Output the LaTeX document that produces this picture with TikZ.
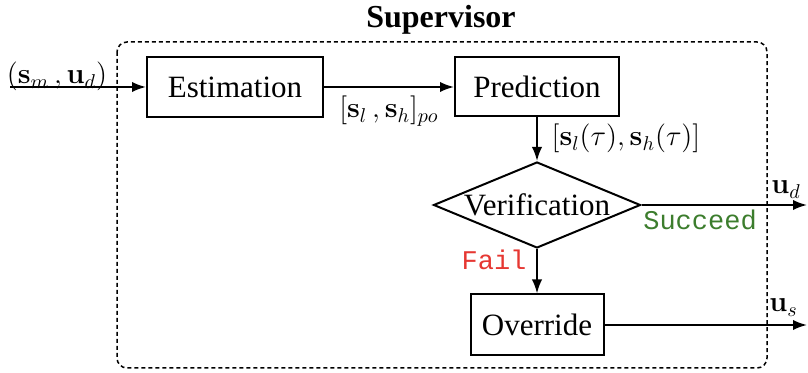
\documentclass[tikz,border=0pt]{standalone}
\usepackage[no-math]{fontspec}
\setmainfont{Liberation Serif}
\setmonofont{Liberation Mono}
\usetikzlibrary{shapes.geometric,arrows.meta}
\definecolor{okgreen}{RGB}{60,125,45}
\definecolor{failred}{RGB}{230,55,50}
\begin{document}
\begin{tikzpicture}[x=0.5pt,y=-0.5pt,
  blk/.style={draw, line width=1pt, rectangle, inner sep=0pt, font=\fontsize{15.5}{18}\selectfont},
  arr/.style={line width=1pt, -{Latex[length=7pt,width=5.2pt]}},
  lbl/.style={font=\fontsize{14}{16}\selectfont, inner sep=0pt},
  ttl/.style={font=\ttfamily\fontsize{13.5}{16}\selectfont, inner sep=0pt, anchor=base},
  sup/.style={line width=0.75pt, dash pattern=on 2pt off 1.5pt, rounded corners=5pt}
]
\useasboundingbox (0,0) rectangle (808,373);
\draw[sup] (117,42) rectangle (767,368);
\node[font=\bfseries\fontsize{16}{18}\selectfont, anchor=base, inner sep=0pt] (title) at (441,28) {Supervisor};
\node[blk, minimum width=88pt, minimum height=30pt] (est) at (235,87) {Estimation};
\node[blk, minimum width=82pt, minimum height=29.5pt] (pred) at (537,87) {Prediction};
\node[blk, diamond, minimum width=103.5pt, minimum height=43pt] (ver) at (537,205) {\makebox[0pt]{Verification}};
\node[blk, minimum width=66.5pt, minimum height=30.5pt] (ovr) at (537,325) {Override};
\coordinate (in) at (10,87);
\coordinate (outd) at (807,205);
\coordinate (outs) at (807,325);
\node[lbl, anchor=base] (lin) at (57,84) {$(\mathbf{s}_m\,,\mathbf{u}_d)$};
\node[lbl, anchor=base] (lpo) at (389,118) {$[\mathbf{s}_l\,,\mathbf{s}_h]_{po}$};
\node[lbl, anchor=base] (ltau) at (626,146) {$[\mathbf{s}_l(\tau),\mathbf{s}_h(\tau)]$};
\node[lbl, anchor=base west] (lud) at (771,194) {$\mathbf{u}_d$};
\node[lbl, anchor=base west] (lus) at (769,312) {$\mathbf{u}_s$};
\node[ttl, text=okgreen] (succ) at (700,230) {Succeed};
\node[ttl, text=failred] (fail) at (494,270) {Fail};
\draw[arr] (in) -- (est);
\draw[arr] (est) -- (pred);
\draw[arr] (pred) -- (ver);
\draw[arr] (ver) -- (ovr);
\draw[arr] (ver.east) -- (outd);
\draw[arr] (ovr) -- (outs);
\end{tikzpicture}
\end{document}
